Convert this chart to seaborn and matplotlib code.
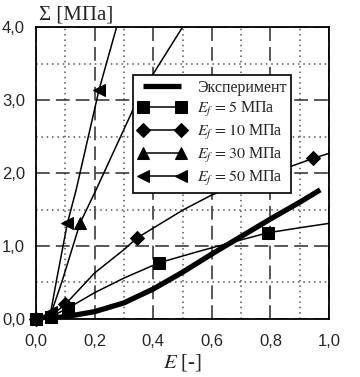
import numpy as np
import seaborn as sns
import matplotlib.pyplot as plt
from matplotlib.ticker import FixedLocator

# data
exp_E = [0, 0.1, 0.2, 0.3, 0.4, 0.5, 0.6, 0.7, 0.8, 0.9, 0.97]
exp_S = [0, 0.03, 0.1, 0.22, 0.41, 0.64, 0.89, 1.13, 1.37, 1.6, 1.77]

ef5_E = [0, 0.05, 0.11, 0.2, 0.3, 0.42, 0.55, 0.65, 0.79, 0.9, 1.0]
ef5_S = [0, 0.03, 0.15, 0.36, 0.56, 0.77, 0.92, 1.03, 1.18, 1.25, 1.31]
ef5_marks = [0, 1, 2, 5, 8]

ef10_E = [0, 0.05, 0.1, 0.2, 0.3, 0.345, 0.5, 0.6, 0.7, 0.8, 0.945, 1.0]
ef10_S = [0, 0.04, 0.2, 0.63, 0.95, 1.11, 1.49, 1.70, 1.85, 1.99, 2.2, 2.27]
ef10_marks = [0, 1, 2, 5, 10]

ef30_E = [0, 0.05, 0.09, 0.15, 0.205, 0.33, 0.397, 0.5]
ef30_S = [0, 0.06, 0.53, 1.31, 1.77, 2.86, 3.34, 4.0]
ef30_marks = [0, 1, 3]

ef50_E = [0, 0.05, 0.07, 0.107, 0.137, 0.215, 0.275]
ef50_S = [0, 0.09, 0.53, 1.31, 1.77, 3.14, 4.0]
ef50_marks = [0, 1, 3, 5]

x_ticks = [0.0, 0.2, 0.4, 0.6, 0.8, 1.0]
y_ticks = [0.0, 1.0, 2.0, 3.0, 4.0]
x_minor = [0.1, 0.3, 0.5, 0.7, 0.9]
y_minor = [0.5, 1.5, 2.5, 3.5]

sns.set_style("white")
plt.rcParams['font.family'] = ['Liberation Serif', 'DejaVu Serif']
plt.rcParams['mathtext.fontset'] = 'stix'

fig, ax = plt.subplots(figsize=(3.6, 3.77), dpi=100)
fig.subplots_adjust(left=0.1, right=0.914, bottom=0.154, top=0.928)

# experiment - thick line
sns.lineplot(x=exp_E, y=exp_S, ax=ax, sort=False, color='black', lw=3.8,
             label='Эксперимент', solid_capstyle='butt',
             solid_joinstyle='round', zorder=3)

series = [
    (ef5_E, ef5_S, ef5_marks, 's', 8, '$E_f\\,=5$ МПа'),
    (ef10_E, ef10_S, ef10_marks, 'D', 7.5, '$E_f\\,=10$ МПа'),
    (ef30_E, ef30_S, ef30_marks, '^', 9, '$E_f\\,=30$ МПа'),
    (ef50_E, ef50_S, ef50_marks, '<', 9, '$E_f\\,=50$ МПа'),
]
for xs, ys, marks, mk, ms, lab in series:
    sns.lineplot(x=xs, y=ys, ax=ax, sort=False, color='black', lw=1.1,
                 marker=mk, markersize=ms, markevery=marks,
                 markeredgecolor='black', markerfacecolor='black',
                 label=lab, clip_on=False, zorder=4)

ax.set_xlim(0, 1.0)
ax.set_ylim(0, 4.0)
ax.set_xticks(x_ticks)
ax.set_yticks(y_ticks)
ax.xaxis.set_minor_locator(FixedLocator(x_minor))
ax.yaxis.set_minor_locator(FixedLocator(y_minor))
ax.set_xticklabels([f"{v:.1f}".replace('.', ',') for v in x_ticks],
                   family='Liberation Sans', fontsize=12)
ax.set_yticklabels([f"{v:.1f}".replace('.', ',') for v in y_ticks],
                   family='Liberation Sans', fontsize=12)
ax.tick_params(which='both', length=0)
ax.tick_params(axis='x', pad=11)
ax.tick_params(axis='y', pad=8)

ax.set_axisbelow(True)
ax.grid(which='major', color='#2a2a2a', lw=1.1, ls=(0, (9, 4)))
ax.grid(which='minor', color='#555555', lw=1.1, ls=(0, (1, 2.5)))
for sp in ax.spines.values():
    sp.set_color('black')
    sp.set_linewidth(1.3)

ax.set_xlabel('$E$ [-]', fontsize=15, labelpad=2)
ax.set_ylabel('')
ax.text(0.01, 1.01, 'Σ [МПа]', transform=ax.transAxes, fontsize=15,
        ha='left', va='bottom')

leg = ax.legend(loc='upper left', bbox_to_anchor=(0.331, 0.836),
                borderaxespad=0, fontsize=11.5, numpoints=2, handlelength=3.0,
                handletextpad=0.7, labelspacing=0.25, borderpad=0.3,
                fancybox=False, framealpha=1, edgecolor='black')
leg.get_frame().set_linewidth(1.2)

fig.savefig('out.png', dpi=100)
